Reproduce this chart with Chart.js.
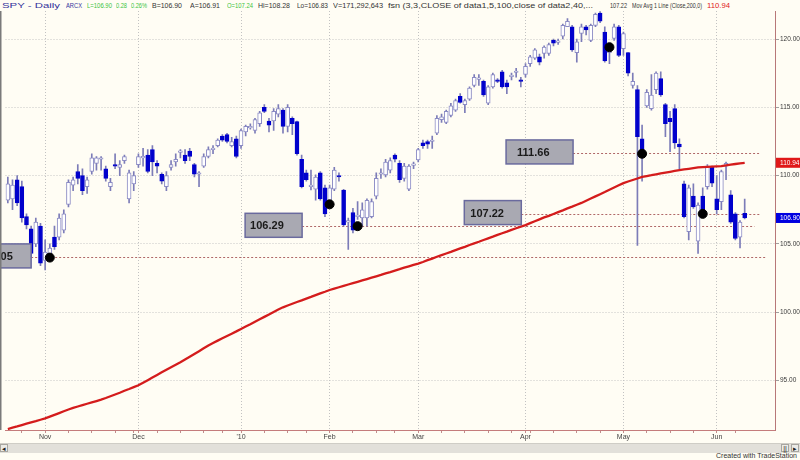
<!DOCTYPE html>
<html>
<head>
<meta charset="utf-8">
<script src="https://cdn.jsdelivr.net/npm/chart.js@4.4.0/dist/chart.umd.min.js"></script>
<style>
  html, body { margin: 0; padding: 0; }
  body { width: 800px; height: 460px; background: #fffdf4; position: relative; overflow: hidden; font-family: 'Liberation Sans', Arial, sans-serif; }
  #chart { position: absolute; left: 0; top: 0; }
  #header { position: absolute; left: 0; top: 0; width: 800px; height: 11px; }
  #header span { position: absolute; top: 1px; font-size: 7.5px; line-height: 9px; white-space: nowrap; transform-origin: left top; }
  #scroll { position: absolute; left: 0; top: 443px; width: 800px; height: 9px; background: #e2e0da; border-top: 1px solid #cfcdc6; }
  .btn { position: absolute; top: 0; width: 8px; height: 8px; background: #ecebe6; border: 1px solid #a8a6a0; box-sizing: border-box; font-size: 7px; line-height: 7px; text-align: center; color: #222; }
  #footer { position: absolute; right: 3px; top: 452px; font-family: 'Liberation Sans Narrow', 'Liberation Sans', Arial, sans-serif; font-size: 7px; color: #333; }
</style>
</head>
<body>
<div id="header"></div>
<canvas id="chart" width="800" height="442"></canvas>
<div id="scroll">
  <div class="btn" style="left:0">&#9666;</div>
  <div class="btn" style="left:781px">||</div>
  <div class="btn" style="left:791px">&#9656;</div>
</div>
<div id="footer">Created with TradeStation</div>
<script>
// trading days shown on the chart
const tradingDays = {
  '2009-10': [21,22,23,26,27,28,29,30],
  '2009-11': [2,3,4,5,6,9,10,11,12,13,16,17,18,19,20,23,24,25,27,30],
  '2009-12': [1,2,3,4,7,8,9,10,11,14,15,16,17,18,21,22,23,24,28,29,30,31],
  '2010-01': [4,5,6,7,8,11,12,13,14,15,19,20,21,22,25,26,27,28,29],
  '2010-02': [1,2,3,4,5,8,9,10,11,12,16,17,18,19,22,23,24,25,26],
  '2010-03': [1,2,3,4,5,8,9,10,11,12,15,16,17,18,19,22,23,24,25,26,29,30,31],
  '2010-04': [1,5,6,7,8,9,12,13,14,15,16,19,20,21,22,23,26,27,28,29,30],
  '2010-05': [3,4,5,6,7,10,11,12,13,14,17,18,19,20,21,24,25,26,27,28],
  '2010-06': [1,2,3,4,7,8,9]
}
const monthText = {'2009-11':'Nov','2009-12':'Dec','2010-01':"'10",'2010-02':'Feb','2010-03':'Mar','2010-04':'Apr','2010-05':'May','2010-06':'Jun'}

const opens = [108.2,108.3,109.7,109.2,107.0,106.1,105.0,106.3,103.8,104.1,
  105.5,105.5,106.0,107.9,109.3,110.3,110.0,109.2,110.3,110.9,
  111.2,110.5,109.2,110.8,110.6,111.1,108.3,109.4,110.8,111.3,
  111.5,111.9,110.9,110.1,109.2,110.6,111.0,111.7,111.5,111.8,
  110.8,110.1,110.7,111.4,111.9,112.2,112.9,113.0,112.2,112.7,
  112.2,113.2,113.5,113.3,113.8,115.0,114.0,114.0,114.5,114.8,
  113.6,114.2,113.95,111.2,110.2,109.2,109.0,110.2,109.1,108.0,
  109.0,110.0,108.95,106.6,107.3,107.0,106.9,106.9,107.0,108.5,
  110.1,110.05,110.4,111.5,110.9,109.8,109.0,110.75,111.15,112.4,
  112.5,112.5,113.1,114.1,113.9,114.4,114.8,115.8,115.2,115.6,
  116.6,117.05,116.9,115.3,116.5,117.0,117.6,116.8,117.25,117.55,
  117.0,117.4,118.2,118.6,118.7,118.95,118.95,119.9,119.75,120.2,
  120.9,120.9,119.0,120.4,120.9,119.9,121.0,121.9,120.5,119.0,
  120.05,120.9,119.3,119.0,116.6,116.3,112.7,115.1,114.9,116.3,
  117.1,115.2,114.2,114.9,112.3,109.4,105.9,108.5,105.2,108.5,
  109.2,110.66,108.3,108.1,110.7,108.6,107.2,105.5,107.24]
const highs = [109.9,109.7,110.0,109.6,107.2,106.3,106.9,106.5,105.3,105.0,
  106.3,107.2,107.5,109.7,109.9,110.8,110.5,109.9,111.6,111.4,
  111.4,110.7,109.8,111.6,111.1,111.5,110.4,110.3,111.6,112.0,
  111.9,112.2,111.1,110.2,110.3,111.1,111.6,111.9,111.9,112.0,
  110.9,110.3,111.6,112.1,112.2,112.7,113.0,113.1,112.8,112.9,
  113.4,113.7,113.8,114.2,114.7,115.2,114.2,114.9,115.2,114.9,
  115.2,114.3,114.0,111.5,110.4,110.4,110.05,110.3,109.3,109.3,
  110.6,110.2,109.0,106.9,107.6,108.1,108.0,108.3,108.3,110.2,
  110.5,111.2,111.3,111.6,111.1,110.9,110.8,111.0,112.0,112.6,
  112.6,112.9,114.4,114.5,114.8,115.3,115.6,116.0,115.6,116.5,
  117.4,117.4,117.0,116.6,117.5,117.1,117.7,117.0,117.5,117.85,
  117.2,118.2,118.8,119.3,118.9,119.5,119.7,120.0,120.0,121.1,
  121.5,121.0,120.0,121.1,121.0,121.1,121.9,122.0,120.9,119.6,
  121.1,121.0,120.5,119.0,117.5,116.6,113.7,116.3,117.4,117.6,
  117.6,115.3,114.7,115.2,112.7,109.6,109.3,109.4,108.0,109.1,
  110.8,110.7,110.0,110.4,111.0,108.9,107.3,106.7,108.28]
const lows = [108.0,107.5,107.8,106.6,106.1,104.1,104.8,103.4,103.1,103.7,
  104.6,105.3,105.8,107.7,108.9,109.4,108.6,108.7,110.1,110.4,
  110.4,109.6,108.9,110.5,110.0,110.9,108.0,108.9,110.6,110.7,
  110.2,110.0,110.2,109.4,108.9,110.4,110.7,111.3,110.9,111.1,
  109.9,109.2,110.6,111.3,111.6,112.1,112.5,112.4,112.1,111.3,
  112.0,112.9,113.4,113.1,113.6,114.6,113.2,113.3,114.3,113.1,
  113.2,113.0,111.5,109.1,109.6,108.95,108.2,108.2,107.0,107.8,
  108.9,109.6,106.3,104.6,105.8,106.8,106.3,106.3,106.9,108.3,
  109.8,109.9,110.2,111.0,109.5,109.6,108.9,110.5,111.0,112.0,
  112.0,112.0,113.0,113.9,113.8,114.3,114.7,115.3,114.6,115.5,
  116.5,116.6,115.8,115.2,116.4,116.8,116.4,116.0,117.0,117.2,
  116.5,117.2,118.0,118.5,118.1,118.6,118.8,119.5,119.6,120.0,
  120.9,119.1,118.3,119.8,120.3,119.8,120.9,121.2,118.3,118.2,
  119.9,118.7,118.8,117.3,116.4,104.9,109.6,115.0,114.8,116.0,
  115.8,112.85,111.75,112.0,110.5,106.9,105.3,107.6,104.3,107.0,
  109.0,109.2,107.2,107.5,109.7,106.5,105.3,104.7,106.83]
const closes = [109.4,109.3,108.0,106.9,106.4,104.3,106.6,103.6,104.4,104.7,
  104.8,106.9,107.2,109.5,109.7,109.8,108.9,109.7,111.3,111.3,
  111.3,109.8,109.5,110.7,110.8,111.4,110.2,110.0,111.4,111.4,
  110.3,111.0,110.7,109.6,110.0,110.8,111.2,111.8,111.1,111.4,
  110.1,110.2,111.4,111.9,112.0,112.6,112.6,112.5,112.5,111.4,
  113.3,113.6,113.6,114.1,114.6,114.7,113.7,114.7,114.9,113.6,
  115.0,113.8,111.6,109.2,109.7,109.3,109.9,108.3,107.2,109.1,
  110.4,109.9,106.4,106.7,106.0,107.1,107.5,108.2,108.1,109.8,
  110.2,111.0,111.1,111.2,109.7,110.7,110.7,110.85,111.9,112.2,
  112.3,112.6,114.2,114.3,114.7,115.1,115.5,115.35,115.5,116.4,
  117.2,117.15,115.9,116.5,117.4,116.9,116.5,116.5,117.35,117.65,
  116.9,118.0,118.7,119.2,118.3,119.4,119.6,119.7,119.85,121.0,
  121.3,119.2,119.8,120.9,120.66,121.0,121.8,121.3,118.4,119.4,
  120.9,118.8,120.4,117.5,116.9,112.85,111.6,116.1,115.9,117.5,
  115.9,113.8,113.95,112.4,112.1,107.0,109.1,107.7,107.85,107.2,
  110.7,109.44,107.5,110.3,110.9,106.6,105.4,106.6,106.90]
// 200 day moving average
const ma200 = [91.45,91.55,91.64,91.74,91.84,91.94,92.03,92.13,92.23,
  92.36,92.49,92.62,92.75,92.88,93.0,
  93.1,93.2,93.3,93.4,93.5,93.6,93.72,
  93.85,93.98,94.11,94.25,94.38,94.52,94.65,
  94.84,95.03,95.22,95.41,95.6,95.79,95.98,96.16,96.34,96.54,
  96.74,96.95,97.15,97.36,97.57,
  97.75,97.92,98.09,98.26,98.43,98.6,98.78,
  98.95,99.12,99.3,99.48,99.66,99.84,100.02,100.2,100.36,
  100.49,100.62,100.75,100.87,101.0,101.12,101.25,101.38,101.5,101.63,
  101.73,101.83,101.93,102.03,102.13,102.23,102.33,102.43,102.53,102.63,102.73,102.84,102.94,103.05,103.15,103.26,103.36,103.46,103.56,
  103.68,103.81,103.93,104.06,104.18,
  104.3,104.42,104.55,104.67,104.79,104.92,105.04,105.16,105.29,105.41,105.53,105.66,105.78,105.9,106.03,106.15,106.27,106.38,
  106.52,106.66,106.8,106.94,107.05,
  107.19,107.33,107.46,107.6,107.73,107.87,108.0,
  108.16,108.32,108.48,108.64,108.8,108.97,109.13,109.29,109.45,
  109.57,109.68,109.79,109.9,
  109.97,110.03,110.1,110.16,110.22,110.28,110.34,110.4,
  110.45,110.5,110.55,110.6,
  110.62,110.64,110.66,110.68,110.7,
  110.75,110.8,110.85,110.9,110.94]

// indicator dots (bar index, price)
const dotBars = [9, 69, 75, 129, 136, 149]
const dotPrices = [104.0, 107.9, 106.3, 119.4, 111.6, 107.2]

// price levels with their boxes
const levelValues = [104.05, 106.29, 107.22, 111.66]
const levelText = ['104.05', '106.29', '107.22', '111.66']

const yTicks = [95, 100, 105, 110, 115, 120]

// layout bits (not data)
const padSlots = 6
const yMin = 91.38, yMax = 122.05
const boxLayout = [
  {right: 5.0, width: 58, pad: 6, lineEnd: 162.7},
  {right: 63.1, width: 57, pad: 5, lineEnd: 160.1},
  {right: 110.1, width: 57, pad: 6, lineEnd: 161.2},
  {right: 121.2, width: 67, pad: 11, lineEnd: 161.2}
]
const headerParts = [
  ['SPY - Daily', 2, 58, '#34349c'],
  ['ARCX', 66, 16, '#34349c'],
  ['L=106.90', 87, 25, '#3cc43c'],
  ['0.28', 116, 11, '#3cc43c'],
  ['0.26%', 131, 16, '#3cc43c'],
  ['B=106.90', 152, 30, '#333'],
  ['A=106.91', 190, 30, '#333'],
  ['O=107.24', 227, 26, '#3cc43c'],
  ['Hi=108.28', 258, 32, '#333'],
  ['Lo=106.83', 297, 31, '#333'],
  ['V=171,292,643', 333, 50, '#333'],
  ['fsn (3,3,CLOSE of data1,5,100,close of data2,40,...', 388, 205, '#333'],
  ['107.22', 610, 17, '#333'],
  ['Mov Avg 1 Line (Close,200,0)', 632, 70, '#333'],
  ['110.94', 707, 23, '#e02020']
]

window.onload = () => {
  const header = document.getElementById('header')
  headerParts.forEach(([txt, left, w, col]) => {
    const s = document.createElement('span')
    s.textContent = txt
    s.style.left = left + 'px'
    s.style.color = col
    header.appendChild(s)
    const real = s.getBoundingClientRect().width
    s.style.transform = `scaleX(${w / real})`
  })

  const labels = []
  Object.keys(tradingDays).forEach(m => tradingDays[m].forEach(d => labels.push(m + '-' + String(d).padStart(2, '0'))))
  const nBars = labels.length
  for (let k = 0; k < padSlots; k++) labels.push('')

  const monthStart = new Set()
  const weekStart = new Set()
  const tickText = {}
  for (let i = 1; i < nBars; i++) {
    const m = labels[i].slice(0, 7)
    if (m !== labels[i - 1].slice(0, 7)) { monthStart.add(i); tickText[i] = monthText[m] }
    const d0 = new Date(labels[i - 1] + 'T00:00:00Z').getUTCDay()
    const d1 = new Date(labels[i] + 'T00:00:00Z').getUTCDay()
    if (d1 < d0) weekStart.add(i)
  }

  const up = opens.map((o, i) => closes[i] >= o)

  const overlay = {
    id: 'overlay',
    beforeDatasetsDraw(chart) {
      const {ctx, scales: {x, y}} = chart
      ctx.save()
      ctx.strokeStyle = '#b06868'
      ctx.lineWidth = 1
      ctx.setLineDash([2, 2])
      levelValues.forEach((lv, k) => {
        const py = Math.round(y.getPixelForValue(lv)) + 0.5
        ctx.beginPath()
        ctx.moveTo(x.getPixelForValue(boxLayout[k].right), py)
        ctx.lineTo(x.getPixelForValue(boxLayout[k].lineEnd), py)
        ctx.stroke()
      })
      ctx.restore()
    },
    afterDatasetsDraw(chart) {
      const {ctx, chartArea, scales: {x, y}} = chart
      ctx.save()
      levelValues.forEach((lv, k) => {
        const b = boxLayout[k]
        const cy = y.getPixelForValue(lv) - 1
        const right = x.getPixelForValue(b.right)
        const left = right - b.width
        ctx.fillStyle = '#a9a9b2'
        ctx.fillRect(left, cy - 12, b.width, 24)
        ctx.strokeStyle = '#6a6a9e'
        ctx.lineWidth = 1.5
        ctx.strokeRect(left, cy - 12, b.width, 24)
        ctx.fillStyle = '#1a1a1a'
        ctx.font = 'bold 11px "Liberation Sans", Arial, sans-serif'
        ctx.textBaseline = 'middle'
        ctx.fillText(levelText[k], left + b.pad, cy + 1)
      })
      // left frame line
      ctx.fillStyle = '#7a7a7a'
      ctx.fillRect(0, chartArea.top, 1.5, chartArea.bottom - chartArea.top)
      ctx.restore()
    },
    afterDraw(chart) {
      const {ctx, chartArea, scales: {y}} = chart
      const flags = [[ma200[ma200.length - 1], '#e01818'], [closes[closes.length - 1], '#0000e0']]
      ctx.save()
      flags.forEach(([v, col]) => {
        const py = y.getPixelForValue(v)
        ctx.fillStyle = col
        ctx.fillRect(chartArea.right + 1, py - 5, 800 - chartArea.right - 1, 10)
        ctx.fillStyle = '#ffffff'
        ctx.font = '6.5px "Liberation Sans", Arial, sans-serif'
        ctx.textBaseline = 'middle'
        ctx.fillText(v.toFixed(2), chartArea.right + 5, py + 0.5)
      })
      ctx.restore()
    }
  }

  new Chart(document.getElementById('chart'), {
    type: 'bar',
    data: {
      labels: labels,
      datasets: [
        {
          type: 'line',
          data: dotBars.map((b, k) => ({x: labels[b], y: dotPrices[k]})),
          showLine: false,
          pointRadius: 4.5,
          pointBackgroundColor: '#000',
          pointBorderColor: '#000',
          order: 0
        },
        {
          type: 'line',
          data: ma200,
          borderColor: '#d41c1c',
          borderWidth: 2.3,
          pointRadius: 0,
          tension: 0,
          order: 1
        },
        {
          data: opens.map((o, i) => [o, closes[i]]),
          backgroundColor: up.map(u => u ? '#ffffff' : '#0000cc'),
          borderColor: up.map(u => u ? '#8a8ac4' : '#0000cc'),
          borderWidth: 1,
          borderSkipped: false,
          barThickness: 4,
          minBarLength: 1.5,
          grouped: false,
          order: 2
        },
        {
          data: lows.map((l, i) => [l, highs[i]]),
          backgroundColor: '#7c7cb8',
          barThickness: 1,
          grouped: false,
          order: 3
        }
      ]
    },
    options: {
      responsive: false,
      devicePixelRatio: 1,
      animation: false,
      events: [],
      layout: { padding: { top: 11, left: 0, right: 0, bottom: 0 } },
      plugins: { legend: { display: false }, tooltip: { enabled: false } },
      scales: {
        x: {
          type: 'category',
          offset: true,
          grid: {
            offset: false,
            color: c => monthStart.has(c.index) ? '#c2c2c2' : 'transparent',
            tickColor: c => (weekStart.has(c.index) || monthStart.has(c.index)) ? '#c08c8c' : 'transparent',
            tickLength: 3
          },
          border: { color: '#c47c7c', width: 1, dash: [1, 2] },
          ticks: {
            autoSkip: false,
            maxRotation: 0,
            padding: 0,
            color: '#444',
            font: { family: "'Liberation Sans Narrow', 'Liberation Sans', Arial, sans-serif", size: 7 },
            callback: (v, i) => tickText[i] || ''
          },
          afterFit: s => { s.height = 12 }
        },
        y: {
          position: 'right',
          min: yMin,
          max: yMax,
          afterBuildTicks: s => { s.ticks = yTicks.map(v => ({value: v})) },
          grid: { color: '#c6c6c6', tickColor: '#a0a0a0', tickLength: 4 },
          border: { color: '#b87878', width: 1, dash: [1, 2] },
          ticks: {
            padding: 1,
            color: '#3a3a3a',
            font: { family: "'Liberation Sans', Arial, sans-serif", size: 6.5 },
            callback: v => Number(v).toFixed(2)
          },
          afterFit: s => { s.width = 25 }
        }
      }
    },
    plugins: [overlay]
  })
}
</script>
</body>
</html>
